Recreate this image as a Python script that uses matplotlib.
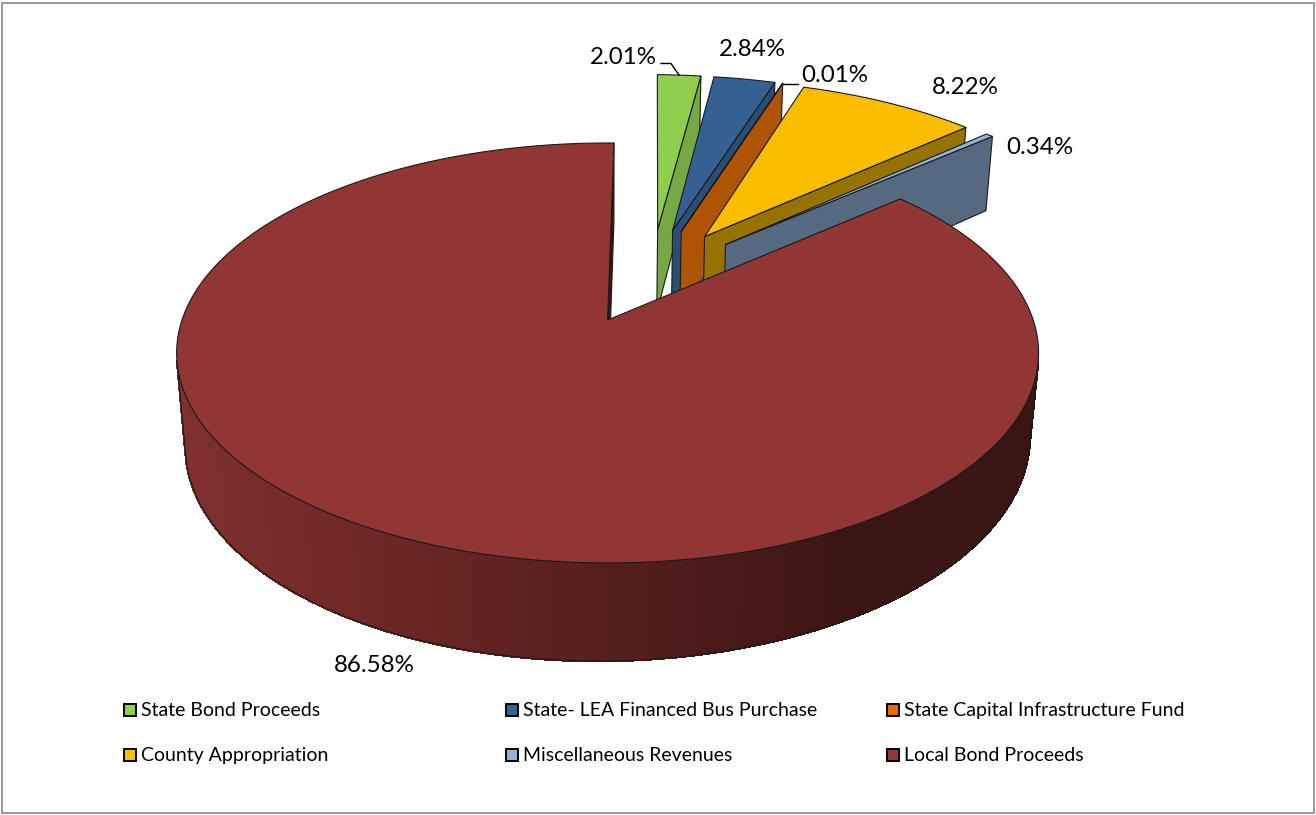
import numpy as np
import matplotlib
matplotlib.use("Agg")
import matplotlib.pyplot as plt
from matplotlib.patches import Polygon, Rectangle
from matplotlib.collections import PolyCollection

categories = ["State Bond Proceeds", "State- LEA Financed Bus Purchase",
              "State Capital Infrastructure Fund", "County Appropriation",
              "Miscellaneous Revenues", "Local Bond Proceeds"]
shares = [2.01, 2.84, 0.01, 8.22, 0.34, 86.58]
labels = ["2.01%", "2.84%", "0.01%", "8.22%", "0.34%", "86.58%"]

top_colors = ["#8FCE4F", "#376092", "#E36C09", "#FBBD00", "#95B3D7", "#913634"]
wall_colors = ["#76A843", "#2C4D75", "#AE5404", "#967200", "#556980", "#3A1513"]
legend_colors = ["#92D050", "#376092", "#E36C09", "#FFC000", "#95B3D7", "#953735"]

label_pos = [(623, 57), (752, 50), (835, 76), (965, 88), (1040, 147), (374, 665)]
legend_cols = [(124, 141), (506, 523), (887, 904)]
legend_rows = [710.5, 755.5]

# camera model (pixel-space perspective of the pie)
CX, CY, A, B, P = 607.6, 320.0, 425.6, 204.8, 0.157
DEPTH_C, DEPTH_Q, DEPTH_TILT = 89.5, 0.02, -5.0
ROTATION, EXPLODE = 1.0, 0.25


def project(x, y, z):
    w = 1 + P * y + DEPTH_Q * z
    return CX + A * x / w, CY + (-B * y + (DEPTH_C + DEPTH_TILT * x) * z) / w


def direction(deg):
    r = np.radians(deg)
    return np.array([np.sin(r), np.cos(r)])


fig = plt.figure(figsize=(13.16, 8.15), dpi=100)
ax = fig.add_axes([0, 0, 1, 1])
ax.set_xlim(0, 1316)
ax.set_ylim(815, 0)
ax.axis("off")
ax.add_patch(Rectangle((2, 3), 1312, 810, fill=False, ec="#868686", lw=1.2))

fracs = np.array(shares) / sum(shares)
edges = ROTATION + 360 * np.concatenate([[0], np.cumsum(fracs)])
mids = (edges[:-1] + edges[1:]) / 2
ref_dir = direction(mids[-1])

LINE = dict(color="#1a1a1a", lw=0.8, solid_joinstyle="round")


def rim_color(x):
    stops = np.array([190, 420, 640, 860, 1030])
    cols = np.array([[0x80, 0x30, 0x2E], [0x68, 0x26, 0x24], [0x52, 0x1D, 0x1B],
                     [0x3A, 0x15, 0x13], [0x3A, 0x15, 0x13]], float) / 255
    return [np.interp(x, stops, cols[:, i]) for i in range(3)]


last = len(shares) - 1
for i in range(len(shares)):
    off = EXPLODE * (direction(mids[i]) - ref_dir)
    n = max(3, int((edges[i + 1] - edges[i]) * 2))
    th = np.linspace(edges[i], edges[i + 1], n)
    rx = off[0] + np.sin(np.radians(th))
    ry = off[1] + np.cos(np.radians(th))
    tx, ty = project(rx, ry, 0)
    bx, by = project(rx, ry, 1)
    ax0, ay0 = project(off[0], off[1], 0)
    ax1, ay1 = project(off[0], off[1], 1)

    # outer rim: only the large slice shows it, the others face away
    if i == last:
        cross = np.gradient(tx) * (by - ty) - np.gradient(ty) * (bx - tx)
        turns = np.where(np.sign(cross[:-1]) != np.sign(cross[1:]))[0]
        k0, k1 = turns[0], turns[-1]
        quads = [[(tx[k], ty[k]), (tx[k + 1], ty[k + 1]), (bx[k + 1], by[k + 1]), (bx[k], by[k])]
                 for k in range(k0, k1 + 1)]
        cols = [rim_color((bx[k] + bx[k + 1]) / 2) for k in range(k0, k1 + 1)]
        ax.add_collection(PolyCollection(quads, facecolors=cols, edgecolors=cols, linewidths=1.0,
                                         antialiaseds=False, zorder=2 + i))
        ax.plot(bx[k0:k1 + 2], by[k0:k1 + 2], zorder=2 + i, **LINE)
        for k in (k0, k1 + 1):
            ax.plot([tx[k], bx[k]], [ty[k], by[k]], zorder=2 + i, **LINE)

    # radial wall at the clockwise end
    wall = [(ax0, ay0), (tx[-1], ty[-1]), (bx[-1], by[-1]), (ax1, ay1)]
    ax.add_patch(Polygon(wall, closed=True, fc=wall_colors[i], ec="#1a1a1a", lw=0.8,
                         joinstyle="round", zorder=2 + i))
    # top face
    top = [(ax0, ay0)] + list(zip(tx, ty))
    ax.add_patch(Polygon(top, closed=True, fc=top_colors[i], ec="#1a1a1a", lw=0.8,
                         joinstyle="round", zorder=2 + i))

font = ["Lato", "DejaVu Sans"]
for (x, y), s in zip(label_pos, labels):
    ax.text(x, y, s, ha="center", va="center", fontsize=17.4, family=font, color="black", zorder=20)

# leader lines
ax.plot([661, 671, 679], [63.5, 63.5, 75], color="black", lw=1.0, zorder=20)
ax.plot([782, 798], [83.5, 83.5], color="black", lw=1.0, zorder=20)

# legend
for j, name in enumerate(categories):
    r, c = divmod(j, 3)
    sq, tx0 = legend_cols[c]
    y = legend_rows[r]
    ax.add_patch(Rectangle((sq, y - 7), 12, 12, fc=legend_colors[j], ec="black", lw=1.4, zorder=20))
    ax.text(tx0, y, name, ha="left", va="center", fontsize=14.0, family=font, color="black", zorder=20)

fig.savefig("out.png", dpi=100)
